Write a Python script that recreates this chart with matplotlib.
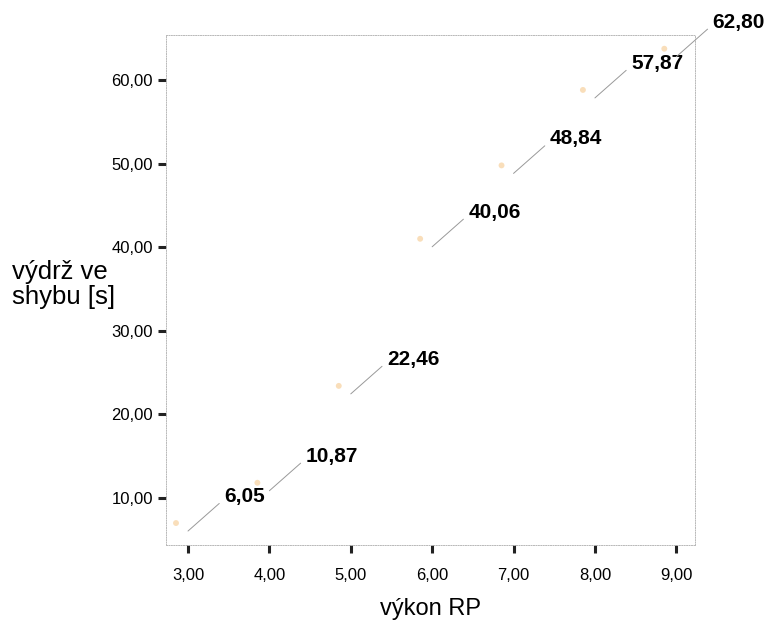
import matplotlib
matplotlib.use("Agg")
import matplotlib.pyplot as plt
import matplotlib.transforms as mtransforms

plt.rcParams['font.family'] = ['Liberation Sans', 'DejaVu Sans']

# data: výkon RP vs. výdrž ve shybu [s]
vykon = [3, 4, 5, 6, 7, 8, 9]
vydrz = [6.05, 10.87, 22.46, 40.06, 48.84, 57.87, 62.80]
xticks = [3, 4, 5, 6, 7, 8, 9]
yticks = [10, 20, 30, 40, 50, 60]

def cz(v):
    return ("%.2f" % v).replace(".", ",")

fig = plt.figure(figsize=(7.69, 6.26), dpi=100)
ax = fig.add_axes([0.2159, 0.1294, 0.6879, 0.8147])

# faint orange markers (slightly shifted like in the scan)
shift = mtransforms.offset_copy(ax.transData, fig=fig, x=-12, y=8, units='dots')
ax.scatter(vykon, vydrz, s=18, color='#f7d3a3', edgecolors='none',
           alpha=0.75, transform=shift, zorder=3)

for x, y in zip(vykon, vydrz):
    ax.annotate(cz(y), xy=(x, y), xytext=(26, 25), textcoords='offset points',
                ha='left', va='center', fontsize=15, fontweight='bold',
                annotation_clip=False,
                arrowprops=dict(arrowstyle='-', color='#999999', lw=0.7,
                                shrinkA=2, shrinkB=0, relpos=(0, 0.35)))

ax.set_xlim(2.73, 9.23)
ax.set_ylim(4.38, 65.4)
ax.set_xticks(xticks)
ax.set_yticks(yticks)
ax.set_xticklabels([cz(v) for v in xticks])
ax.set_yticklabels([cz(v) for v in yticks])

for s in ax.spines.values():
    s.set_linestyle((0, (1, 1.5)))
    s.set_color('#b8b8b8')
    s.set_linewidth(0.7)

ax.tick_params(axis='both', direction='out', length=5.5, width=2.2,
               color='#222222', labelsize=12)
ax.tick_params(axis='x', pad=11)
ax.tick_params(axis='y', pad=4)

fig.text(0.016, 0.545, "výdrž ve\nshybu [s]", fontsize=18.5,
         ha='left', va='center', linespacing=1.05)
ax.set_xlabel("výkon RP", fontsize=17, labelpad=11)

fig.savefig("out.png", dpi=100)
